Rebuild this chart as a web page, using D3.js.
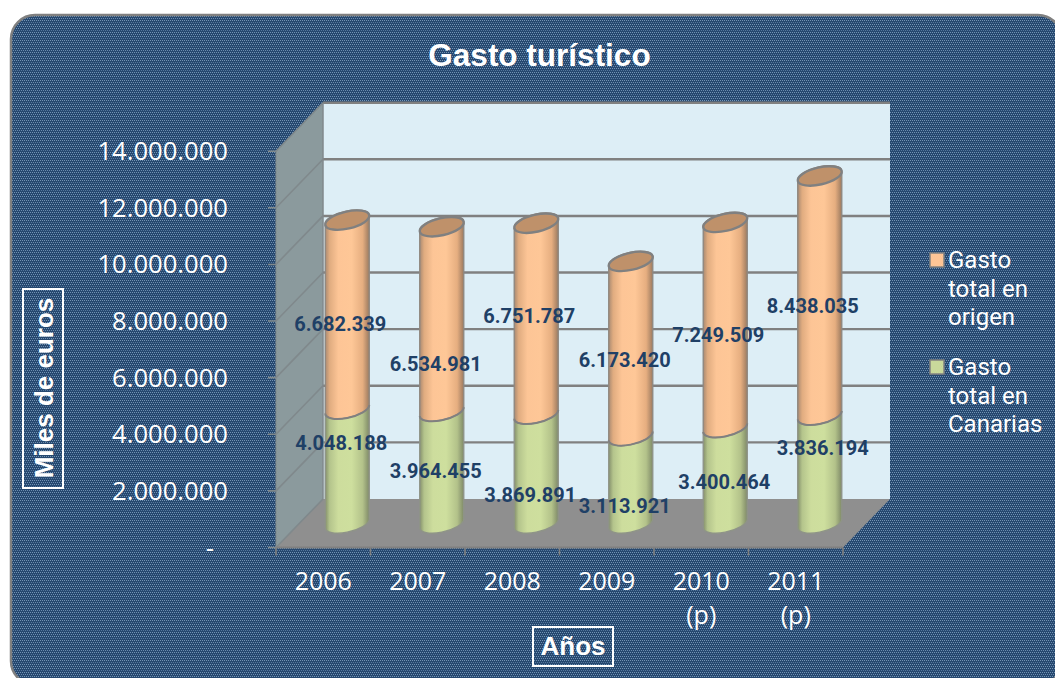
<!DOCTYPE html>
<html><head><meta charset="utf-8">
<script src="https://cdn.jsdelivr.net/npm/d3@7/dist/d3.min.js"></script>
<style>html,body{margin:0;padding:0;background:#fff}svg{display:block}</style>
</head><body><svg id="c" width="1055" height="678"></svg>
<script>
const categories = [["2006"],["2007"],["2008"],["2009"],["2010","(p)"],["2011","(p)"]];
const gastoCanarias = [4048188,3964455,3869891,3113921,3400464,3836194];
const gastoOrigen = [6682339,6534981,6751787,6173420,7249509,8438035];
const yTicks = [0,2000000,4000000,6000000,8000000,10000000,12000000,14000000];
const legendOrigen = ["Gasto","total en","origen"];
const legendCanarias = ["Gasto","total en","Canarias"];
// label offsets relative to the middle of each segment (layout only)
const origenLabelShift = [[-7,9],[-6,44],[-7,-3],[-6,11],[-7,9],[-7,10]];
const canariasLabelShift = [[-6,-26],[-6,1],[-6,24],[-6,24],[-1,4],[3,-24]];

const FONT = "'Open Sans',sans-serif", BOLD = "'Liberation Sans',Arial,sans-serif";
const fmt = v => v===0 ? "-" : d3.format(",")(v).replace(/,/g,".");
const svg = d3.select("#c");
const defs = svg.append("defs");
const pat = defs.append("pattern").attr("id","bg").attr("patternUnits","userSpaceOnUse")
  .attr("width",8).attr("height",8);
pat.append("rect").attr("width",8).attr("height",8).attr("fill","#26486f");
const dots = [[0,0,"#7394b5"],[2,0,"#7394b5"],[4,0,"#7394b5"],[6,0,"#7394b5"],
  [1,2,"#6c8db0"],[3,2,"#6c8db0"],[5,2,"#6c8db0"],[7,2,"#6c8db0"],
  [0,4,"#7394b5"],[2,4,"#7394b5"],[4,4,"#7394b5"],[6,4,"#7394b5"],
  [1,6,"#56789e"],[3,6,"#56789e"],[5,6,"#56789e"],[7,6,"#56789e"]];
dots.forEach(([x,y,c])=>pat.append("rect").attr("x",x).attr("y",y).attr("width",1).attr("height",1).attr("fill",c));
function grad(id,stops){const g=defs.append("linearGradient").attr("id",id);
  stops.forEach(([o,c])=>g.append("stop").attr("offset",o).attr("stop-color",c));}
grad("orange",[[0,"#a98a72"],[.1,"#e0ac80"],[.3,"#fdc596"],[.6,"#fec797"],[.85,"#e6ae80"],[1,"#9b7a60"]]);
grad("green",[[0,"#85906c"],[.1,"#b4c48c"],[.3,"#cddd9d"],[.6,"#cedf9e"],[.85,"#b3c28a"],[1,"#7f8a68"]]);

svg.append("rect").attr("x",11).attr("y",15).attr("width",1051).attr("height",670).attr("rx",24)
  .attr("fill","url(#bg)").attr("stroke","#808080").attr("stroke-width",2.5);

// 3D frame geometry
const frontLeft=276, frontRight=843, depthX=47, depthY=-48.5;
const y = d3.scaleLinear().domain([0,14000000]).range([547.5,151.2]);
const x = d3.scaleBand().domain(d3.range(categories.length)).range([frontLeft,frontRight]);
const barY = d3.scaleLinear().domain([0,14000000]).range([526.5,126.1]);
const barCx = i => x(i)+x.bandwidth()/2+depthX/2+0.5;

const line = d3.line();
const g = svg.append("g");
g.append("path").attr("d",line([[frontLeft+depthX,y(14000000)+depthY],[frontRight+depthX,y(14000000)+depthY],[frontRight+depthX,y(0)+depthY],[frontLeft+depthX,y(0)+depthY]])+"Z").attr("fill","#ddeef6");
g.append("path").attr("d",line([[frontLeft,y(0)],[frontLeft,y(14000000)],[frontLeft+depthX,y(14000000)+depthY],[frontLeft+depthX,y(0)+depthY]])+"Z").attr("fill","#8b9a9d");
g.append("path").attr("d",line([[frontLeft,y(0)],[frontLeft+depthX,y(0)+depthY],[frontRight+depthX,y(0)+depthY],[frontRight,y(0)]])+"Z").attr("fill","#8f8f8f");

yTicks.forEach(t=>{
  g.append("path").attr("d",line([[frontLeft-8,y(t)],[frontLeft,y(t)],[frontLeft+depthX,y(t)+depthY]])).attr("fill","none").attr("stroke","#80898c").attr("stroke-width",1.6);
  g.append("line").attr("x1",frontLeft+depthX).attr("x2",frontRight+depthX).attr("y1",y(t)+depthY).attr("y2",y(t)+depthY).attr("stroke","#808080").attr("stroke-width",t>0?2.4:0);
  g.append("text").attr("x",t===0?214:228).attr("y",y(t)+9).attr("text-anchor","end").attr("fill","#fff")
   .attr("font-family",FONT).attr("font-size",25.6).text(fmt(t));
});
g.append("line").attr("x1",frontLeft).attr("x2",frontLeft).attr("y1",y(0)).attr("y2",y(14000000)).attr("stroke","#80898c").attr("stroke-width",1);
g.append("line").attr("x1",frontLeft+depthX).attr("x2",frontLeft+depthX).attr("y1",y(0)+depthY).attr("y2",y(14000000)+depthY).attr("stroke","#80898c").attr("stroke-width",1.5);
g.append("line").attr("x1",frontLeft).attr("x2",frontRight).attr("y1",y(0)).attr("y2",y(0)).attr("stroke","#808080").attr("stroke-width",2);
d3.range(categories.length+1).forEach(i=>{
  const px=frontLeft+i*x.bandwidth();
  g.append("line").attr("x1",px).attr("x2",px).attr("y1",y(0)).attr("y2",y(0)+8).attr("stroke","#808080").attr("stroke-width",1.6);
});

// cylinders
const hw=22, ry=8.5, rot=-13, rad=rot*Math.PI/180;
const rx=Math.sqrt((hw*hw-ry*ry*Math.sin(rad)**2)/Math.cos(rad)**2);
const endDy=(rx*rx-ry*ry)*Math.sin(-rad)*Math.cos(rad)/hw;
function seg(cx,yBottom,yTop){
  const a=`A${rx} ${ry} ${rot} 0 0`;
  return `M${cx-hw} ${yTop+endDy}L${cx-hw} ${yBottom+endDy}${a} ${cx+hw} ${yBottom-endDy}L${cx+hw} ${yTop-endDy}${a} ${cx-hw} ${yTop+endDy}Z`;
}
function frontArc(cx,yy){return `M${cx-hw} ${yy+endDy}A${rx} ${ry} ${rot} 0 0 ${cx+hw} ${yy-endDy}`;}
categories.forEach((c,i)=>{
  const cx=barCx(i), a=gastoCanarias[i], b=a+gastoOrigen[i];
  g.append("path").attr("d",seg(cx,barY(0)-3,barY(a))).attr("fill","url(#green)").attr("stroke","#8f9488").attr("stroke-width",1.4);
  g.append("path").attr("d",seg(cx,barY(a)-1.5,barY(b))).attr("fill","url(#orange)").attr("stroke","#908880").attr("stroke-width",1.4);
  g.append("path").attr("d",frontArc(cx,barY(a)-1.5)).attr("fill","none").attr("stroke","#808080").attr("stroke-width",2);
  g.append("ellipse").attr("cx",cx).attr("cy",barY(b)+0.5).attr("rx",rx).attr("ry",ry)
   .attr("transform",`rotate(${rot} ${cx} ${barY(b)+0.5})`).attr("fill","#bf916a").attr("stroke","#808080").attr("stroke-width",2.4);
});

// data labels
function label(px,py,v){g.append("text").attr("x",px).attr("y",py).attr("text-anchor","middle").attr("fill","#1f4066")
  .attr("font-family","Roboto,sans-serif").attr("font-weight",700).attr("font-size",20).text(fmt(v));}
categories.forEach((c,i)=>{
  const cx=barCx(i), a=gastoCanarias[i], o=gastoOrigen[i];
  label(cx+canariasLabelShift[i][0],barY(a/2)+canariasLabelShift[i][1]+7,a);
  label(cx+origenLabelShift[i][0],barY(a+o/2)+origenLabelShift[i][1]+7,o);
  c.forEach((s,k)=>g.append("text").attr("x",x(i)+x.bandwidth()/2).attr("y",590+k*34).attr("text-anchor","middle")
    .attr("fill","#fff").attr("font-family",FONT).attr("font-size",25).text(s));
});

// title
g.append("text").attr("x",539.5).attr("y",66).attr("text-anchor","middle").attr("fill","#fff")
 .attr("font-family",BOLD).attr("font-weight",700).attr("font-size",31.5).text("Gasto turístico");
// axis titles
g.append("rect").attr("x",533).attr("y",627).attr("width",80).attr("height",39).attr("fill","none").attr("stroke","#fff").attr("stroke-width",2);
g.append("text").attr("x",573).attr("y",655).attr("text-anchor","middle").attr("fill","#fff")
 .attr("font-family",BOLD).attr("font-weight",700).attr("font-size",26).text("Años");
g.append("rect").attr("x",23).attr("y",289).attr("width",40).attr("height",199).attr("fill","none").attr("stroke","#fff").attr("stroke-width",2);
g.append("text").attr("transform","translate(52.5,388) rotate(-90)").attr("text-anchor","middle").attr("fill","#fff")
 .attr("font-family",BOLD).attr("font-weight",700).attr("font-size",26).text("Miles de euros");

// legend
function legend(lines,color,top){
  g.append("rect").attr("x",930).attr("y",top-7).attr("width",14).attr("height",14).attr("fill",color).attr("stroke","#808080").attr("stroke-width",1.5);
  lines.forEach((s,k)=>g.append("text").attr("x",948).attr("y",top+8+k*28.5).attr("fill","#fff")
    .attr("font-family","Roboto,sans-serif").attr("font-size",24).text(s));
}
legend(legendOrigen,"#fdc596",260);
legend(legendCanarias,"#c9d99b",367);
</script></body></html>
